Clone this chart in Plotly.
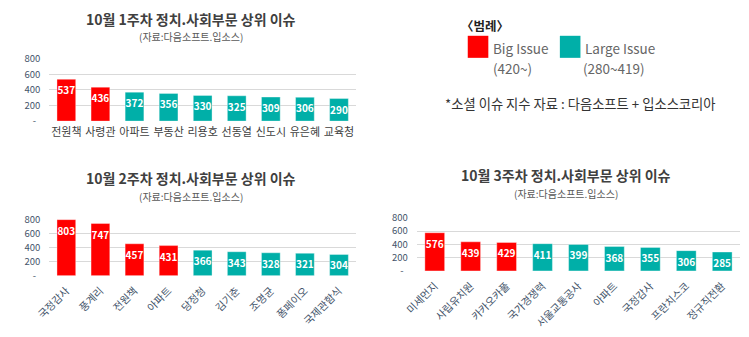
import plotly.graph_objects as go

# Weekly top social/political issues (issue index values)
week1_issues = ["전원책", "사령관", "아파트", "부동산", "리용호", "선동열", "신도시", "유은혜", "교육청"]
week1_values = [537, 436, 372, 356, 330, 325, 309, 306, 290]

week2_issues = ["국정감사", "풍계리", "전원책", "아파트", "당정청", "김기춘", "조명균", "폼페이오", "국제관함식"]
week2_values = [803, 747, 457, 431, 366, 343, 328, 321, 304]

week3_issues = ["미세먼지", "사립유치원", "카카오카풀", "국가경쟁력", "서울교통공사", "아파트", "국정감사", "프란치스코", "정규직전환"]
week3_values = [576, 439, 429, 411, 399, 368, 355, 306, 285]

chart_titles = ["10월 1주차 정치.사회부문 상위 이슈",
                "10월 2주차 정치.사회부문 상위 이슈",
                "10월 3주차 정치.사회부문 상위 이슈"]
source_note = "(자료:다음소프트.입소스)"

y_tick_vals = [0, 200, 400, 600, 800]
y_tick_text = ["-\u00a0\u00a0", "200", "400", "600", "800"]

BIG_THRESHOLD = 420
RED = "#FF0000"
TEAL = "#00AFA8"
FONT = "Noto Sans CJK KR, Noto Sans, sans-serif"
W, H = 749, 337


def bar_colors(values):
    return [RED if v >= BIG_THRESHOLD else TEAL for v in values]


fig = go.Figure()

panels = [
    (week1_issues, week1_values, "x", "y"),
    (week2_issues, week2_values, "x2", "y2"),
    (week3_issues, week3_values, "x3", "y3"),
]
for cats, vals, xa, ya in panels:
    fig.add_trace(go.Bar(
        x=cats, y=vals, xaxis=xa, yaxis=ya,
        marker=dict(color=bar_colors(vals), line=dict(width=0.6, color="rgba(255,255,255,0.6)")),
        text=[str(v) for v in vals],
        textposition="inside", insidetextanchor="end",
        textangle=0, constraintext="none",
        textfont=dict(family=FONT, size=10, color="white", weight="bold"),
        cliponaxis=False, showlegend=False, hoverinfo="x+y",
    ))

# Panel geometry in pixels: (left, right, top, bottom)
geom = {
    "1": (35, 348, 53, 118),
    "2": (35, 348, 221, 279.3),
    "3": (410, 740, 219, 274.3),
}
panel_values = {"1": week1_values, "2": week2_values, "3": week3_values}


def dom_x(l, r):
    return [l / W, r / W]


def dom_y(t, b):
    return [1 - b / H, 1 - t / H]


layout_axes = {}
angles = {"1": 0, "2": -45, "3": -45}
for k, (l, r, t, b) in geom.items():
    xs = "xaxis" if k == "1" else f"xaxis{k}"
    ys = "yaxis" if k == "1" else f"yaxis{k}"
    yref = "y" if k == "1" else f"y{k}"
    top = max(800, max(panel_values[k]))
    # keep the 800 gridline at the top edge of the panel
    t_adj = t - (top - 800) / 800 * (b - t)
    layout_axes[xs] = dict(
        domain=dom_x(l, r), anchor=yref, showgrid=False, showline=False,
        ticks="", tickangle=angles[k], ticklabelstandoff=3 if k == "1" else 6,
        tickfont=dict(family=FONT, size=11 if k == "1" else 10.5,
                      color="#404040" if k == "1" else "#44546A"),
        fixedrange=True,
    )
    layout_axes[ys] = dict(
        domain=dom_y(t_adj, b), anchor="x" if k == "1" else f"x{k}",
        range=[0, top], tickvals=y_tick_vals, ticktext=y_tick_text,
        showgrid=True, gridcolor="#D9D9D9", gridwidth=1, zeroline=False,
        showline=False, ticks="", ticklabelstandoff=8,
        tickfont=dict(family=FONT, size=9.5, color="#44546A"),
        fixedrange=True,
    )

fig.update_layout(**layout_axes)
fig.update_layout(barmode="group", bargap=0.45)

annotations = []
title_pos = [(180, 11, 29.5), (180, 177, 196.5), (562, 174, 193.5)]
for title, (cx, ty, sy) in zip(chart_titles, title_pos):
    annotations.append(dict(
        x=cx / W, y=1 - ty / H, xref="paper", yref="paper", text=f"<b>{title}</b>",
        showarrow=False, xanchor="center", yanchor="middle",
        font=dict(family=FONT, size=14, color="#404040"),
    ))
    annotations.append(dict(
        x=cx / W, y=1 - sy / H, xref="paper", yref="paper", text=source_note,
        showarrow=False, xanchor="center", yanchor="middle",
        font=dict(family=FONT, size=10, color="#595959"),
    ))

# Legend block
legend_font = dict(family=FONT, size=13.5, color="#666666")
annotations += [
    dict(x=453 / W, y=1 - 18 / H, xref="paper", yref="paper", text="<b>〈범례〉</b>",
         showarrow=False, xanchor="left", yanchor="middle",
         font=dict(family=FONT, size=12.5, color="#222222")),
    dict(x=486 / W, y=1 - 42 / H, xref="paper", yref="paper", text="Big Issue",
         showarrow=False, xanchor="left", yanchor="middle", font=legend_font),
    dict(x=486 / W, y=1 - 63 / H, xref="paper", yref="paper", text="(420~)",
         showarrow=False, xanchor="left", yanchor="middle", font=legend_font),
    dict(x=580 / W, y=1 - 42 / H, xref="paper", yref="paper", text="Large Issue",
         showarrow=False, xanchor="left", yanchor="middle", font=legend_font),
    dict(x=578 / W, y=1 - 63 / H, xref="paper", yref="paper", text="(280~419)",
         showarrow=False, xanchor="left", yanchor="middle", font=legend_font),
    dict(x=577 / W, y=1 - 100 / H, xref="paper", yref="paper",
         text="*소셜 이슈 지수 자료 : 다음소프트 + 입소스코리아",
         showarrow=False, xanchor="center", yanchor="middle",
         font=dict(family=FONT, size=13.3, color="#333333")),
]

shapes = [
    dict(type="rect", xref="paper", yref="paper",
         x0=462 / W, x1=483 / W, y0=1 - 52 / H, y1=1 - 29 / H,
         fillcolor=RED, line=dict(width=0)),
    dict(type="rect", xref="paper", yref="paper",
         x0=556 / W, x1=577 / W, y0=1 - 52 / H, y1=1 - 29 / H,
         fillcolor=TEAL, line=dict(width=0)),
]

fig.update_layout(
    width=W, height=H, margin=dict(l=0, r=0, t=0, b=0),
    paper_bgcolor="white", plot_bgcolor="white",
    annotations=annotations, shapes=shapes,
    font=dict(family=FONT),
)

fig.write_html("out.html", config={"displayModeBar": False})
